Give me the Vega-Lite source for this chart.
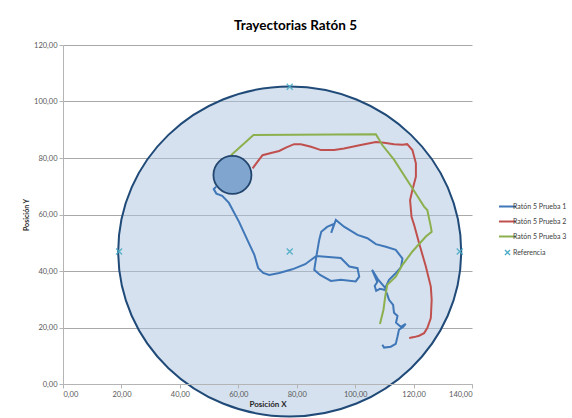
{
  "$schema": "https://vega.github.io/schema/vega-lite/v6.json",
  "autosize": {"type": "none"},
  "padding": {"left": 63, "top": 45, "right": 100, "bottom": 34},
  "width": 409,
  "height": 339,
  "background": "white",
  "title": {
    "text": "Trayectorias Ratón 5",
    "font": "Lato",
    "fontSize": 13.5,
    "fontWeight": "bold",
    "color": "#000000",
    "anchor": "middle",
    "dx": 28,
    "offset": 9
  },
  "datasets": {
    "piscina": [
      {"elemento": "Piscina", "x": 77.6, "y": 46.9},
      {"elemento": "Plataforma", "x": 58.0, "y": 74.0}
    ],
    "trayectorias": [
      {"serie": "Ratón 5 Prueba 1", "orden": 1, "x": 109.3, "y": 13.9},
      {"serie": "Ratón 5 Prueba 1", "orden": 2, "x": 109.9, "y": 12.9},
      {"serie": "Ratón 5 Prueba 1", "orden": 3, "x": 112.2, "y": 13.2},
      {"serie": "Ratón 5 Prueba 1", "orden": 4, "x": 113.9, "y": 14.2},
      {"serie": "Ratón 5 Prueba 1", "orden": 5, "x": 114.5, "y": 16.8},
      {"serie": "Ratón 5 Prueba 1", "orden": 6, "x": 115.0, "y": 19.2},
      {"serie": "Ratón 5 Prueba 1", "orden": 7, "x": 116.4, "y": 20.2},
      {"serie": "Ratón 5 Prueba 1", "orden": 8, "x": 117.3, "y": 21.3},
      {"serie": "Ratón 5 Prueba 1", "orden": 9, "x": 115.7, "y": 20.2},
      {"serie": "Ratón 5 Prueba 1", "orden": 10, "x": 114.0, "y": 21.7},
      {"serie": "Ratón 5 Prueba 1", "orden": 11, "x": 114.5, "y": 24.1},
      {"serie": "Ratón 5 Prueba 1", "orden": 12, "x": 113.3, "y": 25.2},
      {"serie": "Ratón 5 Prueba 1", "orden": 13, "x": 113.0, "y": 28.0},
      {"serie": "Ratón 5 Prueba 1", "orden": 14, "x": 111.6, "y": 29.8},
      {"serie": "Ratón 5 Prueba 1", "orden": 15, "x": 111.0, "y": 31.6},
      {"serie": "Ratón 5 Prueba 1", "orden": 16, "x": 110.3, "y": 33.3},
      {"serie": "Ratón 5 Prueba 1", "orden": 17, "x": 108.5, "y": 33.7},
      {"serie": "Ratón 5 Prueba 1", "orden": 18, "x": 107.2, "y": 33.0},
      {"serie": "Ratón 5 Prueba 1", "orden": 19, "x": 106.7, "y": 34.7},
      {"serie": "Ratón 5 Prueba 1", "orden": 20, "x": 107.6, "y": 36.1},
      {"serie": "Ratón 5 Prueba 1", "orden": 21, "x": 105.8, "y": 40.4},
      {"serie": "Ratón 5 Prueba 1", "orden": 22, "x": 107.9, "y": 36.9},
      {"serie": "Ratón 5 Prueba 1", "orden": 23, "x": 110.3, "y": 34.0},
      {"serie": "Ratón 5 Prueba 1", "orden": 24, "x": 111.6, "y": 36.9},
      {"serie": "Ratón 5 Prueba 1", "orden": 25, "x": 113.7, "y": 39.0},
      {"serie": "Ratón 5 Prueba 1", "orden": 26, "x": 115.7, "y": 41.4},
      {"serie": "Ratón 5 Prueba 1", "orden": 27, "x": 116.2, "y": 44.4},
      {"serie": "Ratón 5 Prueba 1", "orden": 28, "x": 113.9, "y": 47.5},
      {"serie": "Ratón 5 Prueba 1", "orden": 29, "x": 110.5, "y": 48.6},
      {"serie": "Ratón 5 Prueba 1", "orden": 30, "x": 107.1, "y": 49.5},
      {"serie": "Ratón 5 Prueba 1", "orden": 31, "x": 104.2, "y": 51.6},
      {"serie": "Ratón 5 Prueba 1", "orden": 32, "x": 100.8, "y": 52.8},
      {"serie": "Ratón 5 Prueba 1", "orden": 33, "x": 96.2, "y": 55.7},
      {"serie": "Ratón 5 Prueba 1", "orden": 34, "x": 93.4, "y": 58.1},
      {"serie": "Ratón 5 Prueba 1", "orden": 35, "x": 91.8, "y": 53.5},
      {"serie": "Ratón 5 Prueba 1", "orden": 36, "x": 92.8, "y": 56.7},
      {"serie": "Ratón 5 Prueba 1", "orden": 37, "x": 90.4, "y": 55.6},
      {"serie": "Ratón 5 Prueba 1", "orden": 38, "x": 88.4, "y": 53.9},
      {"serie": "Ratón 5 Prueba 1", "orden": 39, "x": 87.7, "y": 51.0},
      {"serie": "Ratón 5 Prueba 1", "orden": 40, "x": 86.7, "y": 45.0},
      {"serie": "Ratón 5 Prueba 1", "orden": 41, "x": 86.0, "y": 40.4},
      {"serie": "Ratón 5 Prueba 1", "orden": 42, "x": 88.0, "y": 38.6},
      {"serie": "Ratón 5 Prueba 1", "orden": 43, "x": 91.7, "y": 36.5},
      {"serie": "Ratón 5 Prueba 1", "orden": 44, "x": 95.1, "y": 36.9},
      {"serie": "Ratón 5 Prueba 1", "orden": 45, "x": 100.2, "y": 36.3},
      {"serie": "Ratón 5 Prueba 1", "orden": 46, "x": 101.4, "y": 38.0},
      {"serie": "Ratón 5 Prueba 1", "orden": 47, "x": 100.8, "y": 41.0},
      {"serie": "Ratón 5 Prueba 1", "orden": 48, "x": 98.0, "y": 41.6},
      {"serie": "Ratón 5 Prueba 1", "orden": 49, "x": 95.1, "y": 44.6},
      {"serie": "Ratón 5 Prueba 1", "orden": 50, "x": 86.7, "y": 45.3},
      {"serie": "Ratón 5 Prueba 1", "orden": 51, "x": 82.9, "y": 42.4},
      {"serie": "Ratón 5 Prueba 1", "orden": 52, "x": 78.5, "y": 40.6},
      {"serie": "Ratón 5 Prueba 1", "orden": 53, "x": 74.0, "y": 39.3},
      {"serie": "Ratón 5 Prueba 1", "orden": 54, "x": 70.6, "y": 38.6},
      {"serie": "Ratón 5 Prueba 1", "orden": 55, "x": 68.5, "y": 39.3},
      {"serie": "Ratón 5 Prueba 1", "orden": 56, "x": 66.8, "y": 41.1},
      {"serie": "Ratón 5 Prueba 1", "orden": 57, "x": 65.5, "y": 45.7},
      {"serie": "Ratón 5 Prueba 1", "orden": 58, "x": 63.1, "y": 51.0},
      {"serie": "Ratón 5 Prueba 1", "orden": 59, "x": 60.3, "y": 57.3},
      {"serie": "Ratón 5 Prueba 1", "orden": 60, "x": 56.8, "y": 64.1},
      {"serie": "Ratón 5 Prueba 1", "orden": 61, "x": 54.5, "y": 66.6},
      {"serie": "Ratón 5 Prueba 1", "orden": 62, "x": 52.5, "y": 67.4},
      {"serie": "Ratón 5 Prueba 1", "orden": 63, "x": 51.6, "y": 69.0},
      {"serie": "Ratón 5 Prueba 1", "orden": 64, "x": 52.4, "y": 69.8},

      {"serie": "Ratón 5 Prueba 2", "orden": 1, "x": 118.5, "y": 16.3},
      {"serie": "Ratón 5 Prueba 2", "orden": 2, "x": 120.2, "y": 16.6},
      {"serie": "Ratón 5 Prueba 2", "orden": 3, "x": 121.9, "y": 17.1},
      {"serie": "Ratón 5 Prueba 2", "orden": 4, "x": 123.6, "y": 18.0},
      {"serie": "Ratón 5 Prueba 2", "orden": 5, "x": 124.7, "y": 19.8},
      {"serie": "Ratón 5 Prueba 2", "orden": 6, "x": 125.9, "y": 23.3},
      {"serie": "Ratón 5 Prueba 2", "orden": 7, "x": 126.2, "y": 29.8},
      {"serie": "Ratón 5 Prueba 2", "orden": 8, "x": 125.9, "y": 34.5},
      {"serie": "Ratón 5 Prueba 2", "orden": 9, "x": 124.2, "y": 41.6},
      {"serie": "Ratón 5 Prueba 2", "orden": 10, "x": 121.9, "y": 49.8},
      {"serie": "Ratón 5 Prueba 2", "orden": 11, "x": 120.2, "y": 56.3},
      {"serie": "Ratón 5 Prueba 2", "orden": 12, "x": 119.3, "y": 59.2},
      {"serie": "Ratón 5 Prueba 2", "orden": 13, "x": 118.8, "y": 65.1},
      {"serie": "Ratón 5 Prueba 2", "orden": 14, "x": 119.6, "y": 68.7},
      {"serie": "Ratón 5 Prueba 2", "orden": 15, "x": 120.8, "y": 73.4},
      {"serie": "Ratón 5 Prueba 2", "orden": 16, "x": 120.8, "y": 78.1},
      {"serie": "Ratón 5 Prueba 2", "orden": 17, "x": 119.6, "y": 82.8},
      {"serie": "Ratón 5 Prueba 2", "orden": 18, "x": 117.8, "y": 84.9},
      {"serie": "Ratón 5 Prueba 2", "orden": 19, "x": 116.2, "y": 84.7},
      {"serie": "Ratón 5 Prueba 2", "orden": 20, "x": 113.3, "y": 84.9},
      {"serie": "Ratón 5 Prueba 2", "orden": 21, "x": 109.9, "y": 85.4},
      {"serie": "Ratón 5 Prueba 2", "orden": 22, "x": 107.1, "y": 85.7},
      {"serie": "Ratón 5 Prueba 2", "orden": 23, "x": 101.9, "y": 84.6},
      {"serie": "Ratón 5 Prueba 2", "orden": 24, "x": 96.2, "y": 83.4},
      {"serie": "Ratón 5 Prueba 2", "orden": 25, "x": 92.8, "y": 82.8},
      {"serie": "Ratón 5 Prueba 2", "orden": 26, "x": 88.3, "y": 82.8},
      {"serie": "Ratón 5 Prueba 2", "orden": 27, "x": 84.9, "y": 84.0},
      {"serie": "Ratón 5 Prueba 2", "orden": 28, "x": 81.4, "y": 84.9},
      {"serie": "Ratón 5 Prueba 2", "orden": 29, "x": 79.1, "y": 84.9},
      {"serie": "Ratón 5 Prueba 2", "orden": 30, "x": 76.3, "y": 83.7},
      {"serie": "Ratón 5 Prueba 2", "orden": 31, "x": 74.0, "y": 82.5},
      {"serie": "Ratón 5 Prueba 2", "orden": 32, "x": 71.2, "y": 81.8},
      {"serie": "Ratón 5 Prueba 2", "orden": 33, "x": 68.3, "y": 81.0},
      {"serie": "Ratón 5 Prueba 2", "orden": 34, "x": 66.6, "y": 78.7},
      {"serie": "Ratón 5 Prueba 2", "orden": 35, "x": 64.9, "y": 76.3},

      {"serie": "Ratón 5 Prueba 3", "orden": 1, "x": 108.5, "y": 21.2},
      {"serie": "Ratón 5 Prueba 3", "orden": 2, "x": 109.7, "y": 26.3},
      {"serie": "Ratón 5 Prueba 3", "orden": 3, "x": 110.3, "y": 31.0},
      {"serie": "Ratón 5 Prueba 3", "orden": 4, "x": 111.0, "y": 35.1},
      {"serie": "Ratón 5 Prueba 3", "orden": 5, "x": 113.9, "y": 38.0},
      {"serie": "Ratón 5 Prueba 3", "orden": 6, "x": 116.2, "y": 42.2},
      {"serie": "Ratón 5 Prueba 3", "orden": 7, "x": 119.6, "y": 46.9},
      {"serie": "Ratón 5 Prueba 3", "orden": 8, "x": 124.2, "y": 52.2},
      {"serie": "Ratón 5 Prueba 3", "orden": 9, "x": 126.2, "y": 53.9},
      {"serie": "Ratón 5 Prueba 3", "orden": 10, "x": 125.9, "y": 55.7},
      {"serie": "Ratón 5 Prueba 3", "orden": 11, "x": 124.7, "y": 61.6},
      {"serie": "Ratón 5 Prueba 3", "orden": 12, "x": 123.6, "y": 62.8},
      {"serie": "Ratón 5 Prueba 3", "orden": 13, "x": 119.6, "y": 69.3},
      {"serie": "Ratón 5 Prueba 3", "orden": 14, "x": 113.3, "y": 79.4},
      {"serie": "Ratón 5 Prueba 3", "orden": 15, "x": 109.3, "y": 84.6},
      {"serie": "Ratón 5 Prueba 3", "orden": 16, "x": 107.1, "y": 88.4},
      {"serie": "Ratón 5 Prueba 3", "orden": 17, "x": 65.2, "y": 88.1},
      {"serie": "Ratón 5 Prueba 3", "orden": 18, "x": 57.5, "y": 81.0}
    ],
    "referencias": [
      {"serie": "Referencia", "x": 77.6, "y": 46.9},
      {"serie": "Referencia", "x": 19.2, "y": 46.9},
      {"serie": "Referencia", "x": 135.8, "y": 46.9},
      {"serie": "Referencia", "x": 77.6, "y": 105.2}
    ]
  },
  "layer": [
    {
      "data": {"name": "piscina"},
      "transform": [{"filter": "datum.elemento === 'Piscina'"}],
      "mark": {
        "type": "point",
        "shape": "M-1,0C-1,-0.5313,-0.5523,-0.962,0,-0.962C0.5523,-0.962,1,-0.5313,1,0C1,0.5313,0.5523,0.962,0,0.962C-0.5523,0.962,-1,0.5313,-1,0Z",
        "filled": true,
        "fill": "#abc3dd",
        "fillOpacity": 0.5,
        "stroke": "#204a78",
        "strokeOpacity": 1,
        "strokeWidth": 2,
        "size": 117649,
        "opacity": 1
      },
      "encoding": {
        "x": {"field": "x", "type": "quantitative", "scale": {"domain": [0, 140], "nice": false}},
        "y": {"field": "y", "type": "quantitative", "scale": {"domain": [0, 120], "nice": false}}
      }
    },
    {
      "data": {"name": "trayectorias"},
      "mark": {"type": "line", "strokeWidth": 2, "interpolate": "linear"},
      "encoding": {
        "x": {"field": "x", "type": "quantitative"},
        "y": {"field": "y", "type": "quantitative"},
        "order": {"field": "orden", "type": "quantitative"},
        "color": {"field": "serie", "type": "nominal"}
      }
    },
    {
      "data": {"name": "piscina"},
      "transform": [{"filter": "datum.elemento === 'Plataforma'"}],
      "mark": {
        "type": "point",
        "shape": "circle",
        "filled": true,
        "fill": "#80a6d0",
        "stroke": "#23466f",
        "strokeWidth": 1.8,
        "size": 1444,
        "opacity": 1
      },
      "encoding": {
        "x": {"field": "x", "type": "quantitative"},
        "y": {"field": "y", "type": "quantitative"}
      }
    },
    {
      "data": {"name": "referencias"},
      "mark": {
        "type": "point",
        "shape": "M-1,-1L1,1M1,-1L-1,1",
        "filled": false,
        "strokeWidth": 1.3,
        "size": 36,
        "opacity": 0.9
      },
      "encoding": {
        "x": {"field": "x", "type": "quantitative"},
        "y": {"field": "y", "type": "quantitative"},
        "color": {"field": "serie", "type": "nominal"}
      }
    }
  ],
  "resolve": {"scale": {"color": "shared"}},
  "encoding": {
    "x": {
      "field": "x",
      "type": "quantitative",
      "scale": {"domain": [0, 140], "nice": false},
      "axis": {
        "title": "Posición X",
        "values": [0, 20, 40, 60, 80, 100, 120, 140],
        "labelExpr": "replace(format(datum.value, '.2f'), '.', ',')",
        "grid": false,
        "zindex": 1,
        "titlePadding": 3
      }
    },
    "y": {
      "field": "y",
      "type": "quantitative",
      "scale": {"domain": [0, 120], "nice": false},
      "axis": {
        "title": "Posición Y",
        "values": [0, 20, 40, 60, 80, 100, 120],
        "labelExpr": "replace(format(datum.value, '.2f'), '.', ',')",
        "grid": true,
        "titlePadding": 4,
        "titleFontSize": 7
      }
    },
    "color": {
      "field": "serie",
      "type": "nominal",
      "scale": {
        "domain": ["Ratón 5 Prueba 1", "Ratón 5 Prueba 2", "Ratón 5 Prueba 3", "Referencia"],
        "range": ["#3f77b8", "#c0504d", "#8db04f", "#4bacc6"]
      },
      "legend": {
        "title": null,
        "orient": "none",
        "legendX": 441,
        "legendY": 158,
        "padding": 0,
        "labelFont": "Lato",
        "labelFontSize": 7,
        "labelColor": "#404040",
        "labelOffset": 2,
        "rowPadding": 6,
        "symbolSize": 289,
        "symbolStrokeWidth": 2,
        "encode": {
          "symbols": {
            "update": {
              "shape": {"signal": "datum.value === 'Referencia' ? 'M-0.3,-0.3L0.3,0.3M0.3,-0.3L-0.3,0.3' : 'M-1,0L1,0'"},
              "stroke": {"scale": "color", "field": "value"},
              "fill": {"value": "transparent"},
              "strokeWidth": {"signal": "datum.value === 'Referencia' ? 1.3 : 2"}
            }
          }
        }
      }
    }
  },
  "config": {
    "view": {"stroke": null},
    "font": "Lato",
    "axis": {
      "labelFont": "Lato",
      "labelFontSize": 7.5,
      "labelColor": "#595959",
      "titleFont": "Lato",
      "titleFontSize": 8,
      "titleFontWeight": "bold",
      "titleColor": "#262626",
      "domainColor": "#b4b4b4",
      "tickColor": "#b4b4b4",
      "tickSize": 4,
      "gridColor": "#a9a9a9",
      "gridWidth": 1,
      "labelPadding": 2
    }
  }
}
